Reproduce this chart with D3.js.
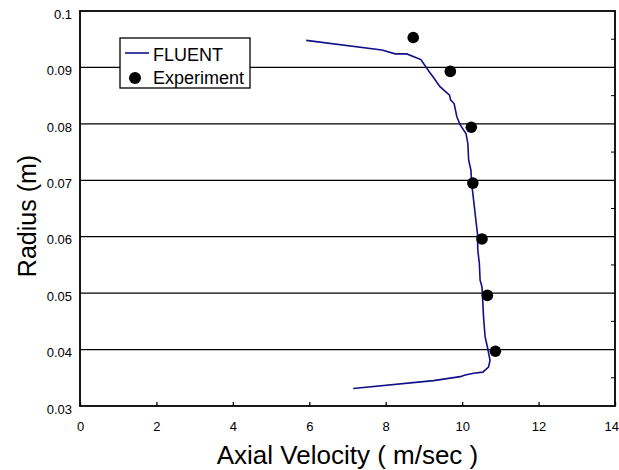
<!DOCTYPE html>
<html>
<head>
<meta charset="UTF-8">
<script src="https://d3js.org/d3.v7.min.js"></script>
<style>
body { margin: 0; background: white; font-family: "Liberation Sans", Arial, sans-serif; }
.tick text { font-size: 13px; fill: black; }
</style>
</head>
<body>
<svg width="619" height="470"></svg>
<script>
// FLUENT profile: axial velocity (m/s) vs radius (m)
const fluentVel = [5.92, 7.90, 8.25, 8.55, 8.77, 8.92, 9.12, 9.25, 9.42, 9.67, 9.70, 9.79, 9.86, 9.95, 10.10, 10.15, 10.17, 10.23, 10.25, 10.30, 10.36, 10.40, 10.41, 10.45, 10.47, 10.52, 10.56, 10.60, 10.66, 10.73, 10.69, 10.54, 10.30, 10.08, 9.95, 9.25, 7.15]
const fluentRad = [0.0948, 0.0931, 0.0924, 0.0924, 0.0918, 0.0914, 0.0894, 0.0882, 0.0866, 0.0851, 0.0842, 0.0836, 0.0813, 0.0798, 0.0783, 0.0765, 0.0736, 0.0718, 0.0694, 0.0665, 0.0629, 0.0606, 0.0576, 0.0553, 0.0523, 0.0511, 0.0458, 0.0423, 0.0405, 0.0381, 0.0369, 0.0360, 0.0358, 0.0355, 0.0352, 0.0345, 0.0331]

// experiment
const expVel = [8.72, 9.69, 10.24, 10.28, 10.52, 10.66, 10.87]
const expRad = [0.0953, 0.0893, 0.0794, 0.0695, 0.0596, 0.0496, 0.0397]

const xTicks = [0, 2, 4, 6, 8, 10, 12, 14]
const yTicks = [0.03, 0.04, 0.05, 0.06, 0.07, 0.08, 0.09, 0.1]

const svg = d3.select("svg")
const mLeft = 80, mRight = 615, mTop = 11, mBottom = 406

const x = d3.scaleLinear().domain([0, 14]).range([mLeft, mRight])
const y = d3.scaleLinear().domain([0.03, 0.1]).range([mBottom, mTop])

// grid lines
svg.selectAll(".grid")
  .data(yTicks.filter(d => d > 0.03 && d < 0.1))
  .join("line")
  .attr("x1", mLeft).attr("x2", mRight)
  .attr("y1", d => y(d)).attr("y2", d => y(d))
  .style("stroke", "black").style("stroke-width", 1.3)

// frame
svg.append("rect")
  .attr("x", mLeft).attr("y", mTop)
  .attr("width", mRight - mLeft).attr("height", mBottom - mTop)
  .style("fill", "none").style("stroke", "black").style("stroke-width", 1.8)

// x axis, ticks pointing in
const xAxis = svg.append("g").attr("transform", "translate(0," + mBottom + ")")
  .call(d3.axisBottom(x).tickValues(xTicks).tickFormat(d3.format("d")).tickSizeInner(-4).tickSizeOuter(0).tickPadding(16))
xAxis.select(".domain").remove()
xAxis.selectAll("line").style("stroke-width", 1.3)
// last label sits at the window edge, keep it inside
xAxis.selectAll("text").filter(d => d === 14).attr("x", 3.5).attr("text-anchor", "end")

const yAxis = svg.append("g").attr("transform", "translate(" + mLeft + ",0)")
  .call(d3.axisLeft(y).tickValues(yTicks).tickFormat(d => d === 0.1 ? "0.1" : d3.format(".2f")(d)).tickSizeInner(0).tickSizeOuter(0).tickPadding(8))
yAxis.select(".domain").remove()
yAxis.selectAll("text").attr("dy", "0.55em")

// right side minor ticks
svg.selectAll(".rtick")
  .data([0.035, 0.045, 0.055, 0.065, 0.075, 0.085, 0.095])
  .join("line")
  .attr("x1", mRight - 4).attr("x2", mRight)
  .attr("y1", d => y(d)).attr("y2", d => y(d))
  .style("stroke", "black").style("stroke-width", 1)

// FLUENT line
const line = d3.line().x(d => x(d[0])).y(d => y(d[1]))
svg.append("path")
  .datum(fluentVel.map((v, i) => [v, fluentRad[i]]))
  .attr("d", line)
  .style("fill", "none").style("stroke", "#10108a").style("stroke-width", 1.6)

// experiment dots
svg.selectAll(".dot")
  .data(expVel.map((v, i) => [v, expRad[i]]))
  .join("circle")
  .attr("cx", d => x(d[0])).attr("cy", d => y(d[1]))
  .attr("r", 5.8)
  .style("fill", "black")

// legend
const lg = svg.append("g")
lg.append("rect").attr("x", 120).attr("y", 38).attr("width", 130).attr("height", 50)
  .style("fill", "white").style("stroke", "black").style("stroke-width", 1.3)
lg.append("line").attr("x1", 125).attr("x2", 149).attr("y1", 53).attr("y2", 53)
  .style("stroke", "#10108a").style("stroke-width", 1.6)
lg.append("text").attr("x", 153).attr("y", 60.5).text("FLUENT").style("font-size", "18px")
lg.append("circle").attr("cx", 135).attr("cy", 78).attr("r", 6).style("fill", "black")
lg.append("text").attr("x", 153).attr("y", 83.5).text("Experiment").style("font-size", "18px")

// axis titles
svg.append("text").attr("x", (mLeft + mRight) / 2).attr("y", 464)
  .attr("text-anchor", "middle").style("font-size", "26px")
  .text("Axial Velocity ( m/sec )")
svg.append("text").attr("transform", "translate(36,216) rotate(-90)")
  .attr("text-anchor", "middle").style("font-size", "25px")
  .text("Radius (m)")
</script>
</body>
</html>
